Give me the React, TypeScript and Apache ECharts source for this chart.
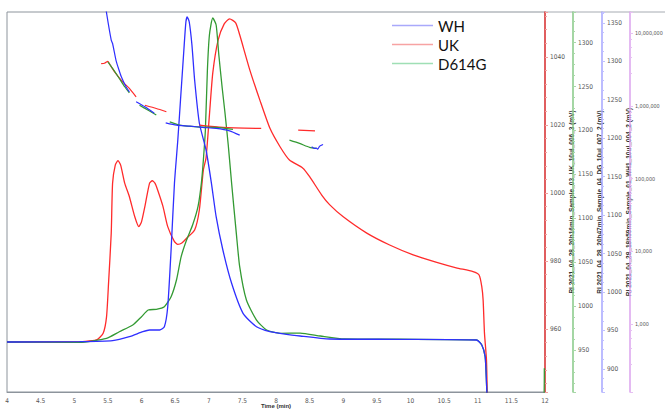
import React, { useEffect, useRef } from "react";
import * as echarts from "echarts";

// ---- axis / label data ----
const legendNames = ["WH", "UK", "D614G"];
const xTitle = "Time (min)";
const ukAxisName = "RI 2021_04_28_20h16min_Sample_03_UK_10ul_006_3 (mV)";
const dgAxisName = "RI 2021_04_28_20h47min_Sample_04_DG_10ul_007_2 (mV)";
const whAxisName = "RI 2021_04_28_18h59min_Sample_01_WH1_10ul_004_2 (mV)";

// ---- RI traces: [time (min), signal (mV)] ----
const ukTrace: [number, number][] = [
  [4.0, 956.2], [5.0, 956.2], [5.33, 956.8], [5.43, 958.8], [5.48, 963.6], [5.51, 973.5],
  [5.55, 988.2], [5.57, 1002.9], [5.61, 1008.2], [5.65, 1009.5], [5.69, 1008.2], [5.75, 1002.9],
  [5.82, 998.9], [5.9, 993.0], [5.96, 990.1], [6.0, 991.5], [6.05, 996.0], [6.12, 1002.9],
  [6.16, 1003.6], [6.2, 1002.9], [6.24, 1000.9], [6.32, 996.0], [6.39, 990.1], [6.49, 985.7],
  [6.54, 984.9], [6.6, 985.3], [6.67, 986.7], [6.79, 989.1], [6.86, 995.0], [6.92, 1006.8],
  [6.96, 1010.3], [7.01, 1022.9], [7.06, 1035.3], [7.14, 1045.0], [7.23, 1049.7], [7.31, 1051.2],
  [7.4, 1050.0], [7.46, 1046.5], [7.61, 1036.2], [7.76, 1027.3], [7.91, 1019.0], [8.06, 1013.6],
  [8.2, 1009.7], [8.4, 1007.3], [8.5, 1004.8], [8.68, 999.4], [8.8, 996.5], [9.0, 993.0],
  [9.35, 988.2], [9.69, 984.7], [10.04, 981.8], [10.39, 979.6], [10.68, 978.0], [10.93, 976.9],
  [11.02, 975.9], [11.06, 972.5], [11.08, 968.5], [11.1, 958.8], [11.13, 950.9], [11.14, 942.1],
  [11.15, 930.0],
];

const dgTrace: [number, number][] = [
  [4.0, 959.0], [5.08, 958.6], [5.48, 963.2], [5.67, 970.7], [5.87, 978.3], [6.0, 987.8],
  [6.1, 995.4], [6.22, 996.2], [6.34, 999.2], [6.44, 1010.6], [6.52, 1029.6], [6.59, 1056.2],
  [6.67, 1075.2], [6.76, 1092.3], [6.84, 1113.2], [6.89, 1139.8], [6.92, 1166.4], [6.95, 1200.5],
  [6.98, 1268.9], [7.01, 1308.8], [7.06, 1328.2], [7.11, 1320.2], [7.15, 1286.0], [7.2, 1248.4],
  [7.24, 1221.1], [7.29, 1183.5], [7.34, 1139.8], [7.41, 1082.8], [7.46, 1044.8], [7.56, 1006.8],
  [7.71, 984.0], [7.86, 972.6], [8.06, 968.9], [8.36, 969.2], [8.66, 965.8], [9.02, 962.4],
  [9.84, 962.1], [10.98, 961.3], [11.06, 955.6], [11.11, 942.2], [11.13, 912.3], [11.14, 892.9],
  [11.15, 880.0], [11.96, 880.0], [11.99, 929.0],
];

const whTrace: [number, number][] = [
  [4.0, 935.0], [5.08, 935.4], [5.57, 936.7], [5.82, 941.9], [6.02, 948.4], [6.12, 950.6],
  [6.27, 950.6], [6.34, 954.9], [6.39, 980.9], [6.44, 1054.6], [6.49, 1141.3], [6.54, 1197.6],
  [6.58, 1249.6], [6.63, 1314.6], [6.66, 1351.0], [6.68, 1357.5], [6.71, 1351.0], [6.75, 1321.1],
  [6.79, 1275.6], [6.86, 1219.7], [6.96, 1184.6], [7.04, 1141.3], [7.11, 1097.9], [7.21, 1054.6],
  [7.34, 1011.3], [7.51, 972.3], [7.71, 954.9], [7.91, 948.4], [8.06, 946.3], [8.36, 942.8],
  [8.8, 938.9], [9.84, 938.5], [10.98, 937.6], [11.06, 931.1], [11.11, 915.9], [11.13, 881.7],
  [11.14, 859.6],
];

// ---- molar mass fragments (log axis): segments of [time, g/mol] ----
const whMass: [number, number][][] = [
  [[5.45, 3.0e7], [5.48, 1.9e7], [5.55, 8.0e6], [5.57, 7.2e6], [5.62, 4.26e6], [5.65, 3.44e6],
   [5.7, 2.51e6], [5.77, 1.83e6], [5.82, 1.56e6]],
  [[5.92, 1.14e6], [6.05, 9.7e5], [6.19, 7.9e5]],
  [[6.36, 5.85e5], [6.52, 5.44e5], [6.72, 5.27e5], [6.91, 5.06e5], [7.11, 4.9e5], [7.31, 4.54e5],
   [7.46, 3.96e5]],
  [[8.53, 2.74e5], [8.57, 2.6e5], [8.6, 2.62e5], [8.62, 2.55e5], [8.65, 2.8e5], [8.7, 2.95e5]],
];
const ukMass: [number, number][][] = [
  [[5.4, 3.8e6], [5.45, 3.85e6], [5.5, 4.1e6], [5.53, 3.7e6], [5.6, 2.94e6], [5.72, 2.14e6],
   [5.82, 1.74e6], [5.92, 1.33e6]],
  [[6.05, 1.02e6], [6.22, 9.2e5], [6.37, 8.3e5]],
  [[6.86, 5.44e5], [7.21, 5.06e5], [7.78, 4.9e5]],
  [[8.33, 4.65e5], [8.58, 4.54e5]],
];
const dgMass: [number, number][][] = [
  [[5.5, 4.03e6], [5.57, 3.27e6], [5.67, 2.38e6], [5.75, 1.83e6], [5.82, 1.51e6]],
  [[5.97, 1.02e6], [6.1, 8.7e5], [6.22, 7.5e5]],
  [[6.42, 6.04e5], [6.57, 5.44e5], [6.82, 5.15e5], [7.11, 5.06e5], [7.36, 4.75e5]],
  [[8.2, 3.38e5], [8.35, 3.05e5], [8.5, 2.69e5], [8.6, 2.6e5]],
];

const joinSegments = (segs: [number, number][][]) => {
  const out: any[] = [];
  segs.forEach((s, i) => {
    if (i > 0) out.push([(segs[i - 1][segs[i - 1].length - 1][0] + s[0][0]) / 2, "-"]);
    s.forEach((p) => out.push(p));
  });
  return out;
};

const RED = "#ff2b2b";
const GREEN = "#339a33";
const BLUE = "#2f2fff";

const tickFont = "'Liberation Sans Narrow', 'DejaVu Sans Condensed', 'Liberation Sans', sans-serif";

function rightAxis(o: {
  offset: number; min: number; max: number; split: number; color: string; tickColor: string;
  name?: string; type?: string; minorSplit: number; fmt: (v: number) => string; fontSize?: number;
}) {
  return {
    type: o.type || "value",
    position: "right",
    offset: o.offset,
    min: o.min,
    max: o.max,
    splitNumber: o.split,
    name: o.name || "",
    nameLocation: "middle",
    nameRotate: 90,
    nameGap: 23,
    nameMoveOverlap: false,
    nameTextStyle: { fontSize: 6.5, fontWeight: "bold", color: "#333", fontFamily: "'Liberation Sans', sans-serif" },
    axisLine: { show: true, lineStyle: { color: o.color, width: 1.5 } },
    axisTick: { show: true, length: 3, lineStyle: { color: o.tickColor } },
    minorTick: { show: true, splitNumber: o.minorSplit, length: 2, lineStyle: { color: o.tickColor } },
    splitLine: { show: false },
    minorSplitLine: { show: false },
    axisLabel: {
      showMinLabel: false,
      showMaxLabel: false,
      fontSize: o.fontSize || 6.5,
      color: "#555",
      margin: 5,
      fontFamily: tickFont,
      formatter: o.fmt,
    },
  };
}

export default function App() {
  const ref = useRef<HTMLDivElement>(null);
  useEffect(() => {
    if (!ref.current) return;
    const chart = echarts.init(ref.current, undefined, { renderer: "svg" });
    const plain = (v: number) => String(Math.round(v));
    const commas = (v: number) => Math.round(v).toLocaleString("en-US");
    const lineSeries = (name: string, data: any[], color: string, yAxisIndex: number, width = 1.3) => ({
      name,
      type: "line",
      data,
      yAxisIndex,
      showSymbol: false,
      symbol: "none",
      smooth: 0.2,
      connectNulls: false,
      lineStyle: { color, width },
      itemStyle: { color },
      emphasis: { disabled: true },
    });
    chart.setOption({
      animation: false,
      backgroundColor: "#ffffff",
      grid: { left: 7, right: 120, top: 12, bottom: 20, show: true, borderColor: "#8d949c", borderWidth: 1, outerBoundsMode: "none" },
      legend: {
        orient: "vertical",
        left: 387,
        top: 13,
        icon: "rect",
        itemWidth: 41,
        itemHeight: 1.5,
        itemGap: 4,
        selectedMode: false,
        textStyle: { fontFamily: "Lato, 'Open Sans', sans-serif", fontSize: 15, color: "#111" },
        data: [
          { name: legendNames[0], itemStyle: { color: "#a9a9fb" } },
          { name: legendNames[1], itemStyle: { color: "#f7a3a3" } },
          { name: legendNames[2], itemStyle: { color: "#9fdfb5" } },
        ],
      },
      xAxis: {
        type: "value",
        min: 4,
        max: 12,
        interval: 0.5,
        name: xTitle,
        nameLocation: "middle",
        nameGap: 14,
        nameMoveOverlap: false,
        nameTextStyle: { fontSize: 6, fontWeight: "bold", color: "#333", fontFamily: "'Liberation Sans', sans-serif", verticalAlign: "middle" },
        axisLine: { show: true, lineStyle: { color: "#8d949c", width: 1 } },
        axisTick: { show: false },
        splitLine: { show: false },
        axisLabel: { fontSize: 6.5, color: "#555", margin: 5, fontFamily: tickFont, formatter: (v: number) => String(v) },
      },
      yAxis: [
        rightAxis({ offset: 0, min: 941.5, max: 1053.2, split: 5, color: "#e83a3a", tickColor: "#f0a0a0", name: ukAxisName, minorSplit: 5, fmt: plain }),
        rightAxis({ offset: 28, min: 902, max: 1335, split: 8, color: "#86c986", tickColor: "#a8d8a8", name: dgAxisName, minorSplit: 4, fmt: plain }),
        rightAxis({ offset: 57, min: 870, max: 1364, split: 8, color: "#a6a6ff", tickColor: "#c0c0ff", name: whAxisName, minorSplit: 4, fmt: plain }),
        {
          ...rightAxis({ offset: 85, min: 117, max: 1.95e7, split: 5, color: "#dba3ee", tickColor: "#e6c0f2", minorSplit: 5, fmt: commas, type: "log", fontSize: 5.4 }),
          logBase: 10,
        },
      ],
      graphic: [
        { type: "line", shape: { x1: 545, y1: 12, x2: 665, y2: 12 }, style: { stroke: "#a6abb2", lineWidth: 1 }, silent: true },
      ],
      series: [
        lineSeries(legendNames[1], ukTrace, RED, 0),
        lineSeries(legendNames[2], dgTrace, GREEN, 1),
        lineSeries(legendNames[0], whTrace, BLUE, 2),
        lineSeries("UK molar mass", joinSegments(ukMass), RED, 3, 1.2),
        lineSeries("D614G molar mass", joinSegments(dgMass), GREEN, 3, 1.2),
        lineSeries("WH molar mass", joinSegments(whMass), BLUE, 3, 1.2),
      ],
    });
    return () => chart.dispose();
  }, []);
  return <div ref={ref} style={{ position: "absolute", left: 0, top: 0, width: 665, height: 412 }} />;
}
